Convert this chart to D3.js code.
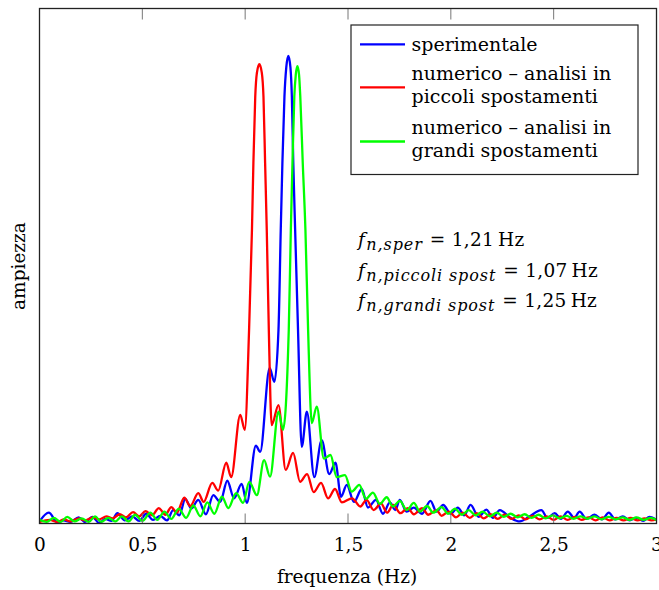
<!DOCTYPE html>
<html><head><meta charset="utf-8">
<script src="https://cdn.jsdelivr.net/npm/d3@7"></script>
<style>
html,body{margin:0;padding:0;background:#fff;}
text{font-family:"DejaVu Serif",serif;fill:#000;}
</style></head>
<body>
<svg id="chart" width="659" height="590"></svg>
<script>
// ---- data (frequency in Hz, amplitude in arbitrary units) ----
const xTicks = [0, 0.5, 1, 1.5, 2, 2.5, 3];
const xTickLabels = ["0", "0,5", "1", "1,5", "2", "2,5", "3"];
const seriesNames = ["sperimentale", "numerico – analisi in|piccoli spostamenti", "numerico – analisi in|grandi spostamenti"];
const seriesColors = ["#0000ff", "#ff0000", "#00ff00"];

const sperimentale = [[0,0.003],[0.045,0.020],[0.088,0.001],[0.117,0.005],[0.150,0.002],[0.19,0.011],[0.222,0.002],[0.257,0.012],[0.29,0.0],[0.32,0.008],[0.35,0.004],[0.379,0.019],[0.415,0.005],[0.451,0.013],[0.485,0.004],[0.519,0.018],[0.552,0.006],[0.587,0.014],[0.62,0.005],[0.650,0.025],[0.68,0.015],[0.709,0.047],[0.738,0.028],[0.772,0.045],[0.809,0.017],[0.845,0.054],[0.879,0.041],[0.913,0.082],[0.946,0.048],[0.983,0.076],[1.008,0.039],[1.052,0.150],[1.073,0.138],[1.119,0.301],[1.142,0.274],[1.162,0.375],[1.173,0.569],[1.181,0.699],[1.191,0.828],[1.200,0.885],[1.210,0.907],[1.220,0.885],[1.227,0.828],[1.234,0.699],[1.243,0.569],[1.257,0.375],[1.275,0.148],[1.300,0.216],[1.336,0.089],[1.372,0.161],[1.409,0.095],[1.439,0.117],[1.466,0.051],[1.494,0.074],[1.529,0.041],[1.567,0.066],[1.597,0.030],[1.636,0.045],[1.670,0.018],[1.704,0.040],[1.73,0.025],[1.752,0.045],[1.785,0.022],[1.82,0.030],[1.86,0.018],[1.901,0.043],[1.93,0.022],[1.963,0.035],[2.0,0.018],[2.034,0.030],[2.065,0.015],[2.096,0.035],[2.135,0.012],[2.173,0.026],[2.205,0.010],[2.238,0.025],[2.29,0.010],[2.335,0.003],[2.38,0.012],[2.44,0.025],[2.47,0.010],[2.505,0.019],[2.535,0.008],[2.569,0.022],[2.60,0.010],[2.626,0.022],[2.66,0.008],[2.699,0.016],[2.735,0.007],[2.768,0.020],[2.80,0.007],[2.836,0.013],[2.87,0.005],[2.901,0.010],[2.935,0.004],[2.966,0.012],[3.0,0.006]];

const piccoliSpost = [[0,0.002],[0.05,0.006],[0.085,0.002],[0.12,0.007],[0.15,0.003],[0.19,0.009],[0.22,0.005],[0.26,0.011],[0.29,0.007],[0.325,0.013],[0.355,0.009],[0.39,0.017],[0.42,0.011],[0.455,0.021],[0.485,0.013],[0.515,0.023],[0.548,0.015],[0.58,0.029],[0.612,0.016],[0.641,0.031],[0.668,0.020],[0.704,0.049],[0.733,0.033],[0.772,0.058],[0.798,0.041],[0.840,0.078],[0.869,0.063],[0.908,0.117],[0.932,0.089],[0.976,0.210],[0.998,0.181],[1.019,0.375],[1.033,0.569],[1.040,0.699],[1.049,0.828],[1.057,0.874],[1.069,0.891],[1.081,0.874],[1.089,0.828],[1.097,0.699],[1.105,0.569],[1.115,0.375],[1.129,0.190],[1.162,0.229],[1.197,0.103],[1.233,0.136],[1.267,0.080],[1.301,0.095],[1.333,0.060],[1.369,0.078],[1.403,0.048],[1.437,0.066],[1.47,0.040],[1.52,0.048],[1.56,0.032],[1.59,0.045],[1.625,0.025],[1.66,0.038],[1.69,0.020],[1.72,0.035],[1.755,0.019],[1.79,0.029],[1.82,0.017],[1.86,0.029],[1.89,0.016],[1.93,0.025],[1.955,0.014],[1.99,0.022],[2.025,0.011],[2.058,0.020],[2.092,0.010],[2.126,0.019],[2.16,0.009],[2.194,0.017],[2.228,0.008],[2.262,0.016],[2.296,0.008],[2.33,0.015],[2.364,0.007],[2.398,0.014],[2.432,0.007],[2.466,0.013],[2.5,0.006],[2.534,0.013],[2.568,0.006],[2.602,0.012],[2.636,0.006],[2.67,0.011],[2.704,0.005],[2.738,0.011],[2.772,0.005],[2.806,0.010],[2.84,0.005],[2.874,0.010],[2.908,0.005],[2.942,0.009],[2.976,0.005],[3.0,0.007]];

const grandiSpost = [[0,0.006],[0.035,0.002],[0.07,0.010],[0.102,0.002],[0.135,0.012],[0.17,0.003],[0.205,0.009],[0.24,0.002],[0.27,0.013],[0.30,0.002],[0.335,0.010],[0.368,0.003],[0.40,0.013],[0.433,0.003],[0.465,0.016],[0.50,0.004],[0.539,0.020],[0.573,0.006],[0.607,0.022],[0.641,0.008],[0.677,0.028],[0.713,0.010],[0.748,0.034],[0.782,0.013],[0.816,0.040],[0.850,0.018],[0.887,0.051],[0.918,0.029],[0.956,0.058],[0.990,0.039],[1.020,0.080],[1.057,0.054],[1.092,0.122],[1.121,0.090],[1.162,0.216],[1.184,0.181],[1.212,0.375],[1.222,0.569],[1.230,0.699],[1.239,0.828],[1.246,0.870],[1.254,0.887],[1.262,0.870],[1.268,0.828],[1.280,0.699],[1.293,0.569],[1.306,0.375],[1.324,0.194],[1.348,0.226],[1.383,0.125],[1.415,0.132],[1.445,0.089],[1.485,0.093],[1.518,0.061],[1.555,0.074],[1.587,0.047],[1.621,0.059],[1.655,0.037],[1.688,0.050],[1.718,0.032],[1.752,0.043],[1.786,0.025],[1.820,0.039],[1.850,0.022],[1.885,0.033],[1.914,0.020],[1.955,0.031],[1.987,0.018],[2.02,0.028],[2.053,0.016],[2.087,0.025],[2.121,0.015],[2.155,0.022],[2.19,0.013],[2.223,0.020],[2.257,0.012],[2.291,0.018],[2.325,0.011],[2.359,0.017],[2.393,0.010],[2.427,0.016],[2.461,0.009],[2.495,0.015],[2.529,0.009],[2.563,0.014],[2.597,0.008],[2.631,0.013],[2.665,0.008],[2.699,0.013],[2.733,0.007],[2.767,0.012],[2.801,0.007],[2.835,0.011],[2.869,0.006],[2.903,0.011],[2.937,0.006],[2.971,0.010],[3.0,0.006]];

const annotations = [
  {sub: "n,sper", value: "1,21"},
  {sub: "n,piccoli spost", value: "1,07"},
  {sub: "n,grandi spost", value: "1,25"}
];

// ---- layout ----
const L = 39.5, R = 656.5, T = 8.5, B = 523.5;
const svg = d3.select("#chart");
const x = d3.scaleLinear().domain([0, 3]).range([L, R]);
const y = d3.scaleLinear().domain([0, 1]).range([523, 8]);

svg.append("defs").append("clipPath").attr("id", "clip")
  .append("rect").attr("x", L).attr("y", T).attr("width", R - L).attr("height", B - T);

const line = d3.line().x(d => x(d[0])).y(d => y(d[1])).curve(d3.curveMonotoneX);
const allSeries = [sperimentale, piccoliSpost, grandiSpost];

const gLines = svg.append("g").attr("clip-path", "url(#clip)");
[0, 1, 2].forEach(i => {
  gLines.append("path").datum(allSeries[i])
    .attr("d", line).attr("fill", "none")
    .attr("stroke", seriesColors[i]).attr("stroke-width", 2.3)
    .attr("stroke-linejoin", "round");
});

// axes: bottom labels, inward ticks at bottom and top
const axB = d3.axisBottom(x).tickValues(xTicks).tickFormat((d, i) => xTickLabels[i]).tickSize(0).tickPadding(0);
const gB = svg.append("g").attr("transform", `translate(0,${B})`).call(axB);
gB.select(".domain").remove();
gB.selectAll("text").attr("font-family", "DejaVu Serif").attr("font-size", 18.5).attr("y", 27.5).attr("dy", 0);
xTicks.forEach(v => {
  svg.append("line").attr("x1", x(v)).attr("x2", x(v)).attr("y1", B).attr("y2", B - 10)
    .attr("stroke", "#777").attr("stroke-width", 1);
  svg.append("line").attr("x1", x(v)).attr("x2", x(v)).attr("y1", T).attr("y2", T + 11)
    .attr("stroke", "#777").attr("stroke-width", 1);
});

// frame
svg.append("rect").attr("x", L).attr("y", T).attr("width", R - L).attr("height", B - T)
  .attr("fill", "none").attr("stroke", "#222").attr("stroke-width", 1.3);

// axis labels
svg.append("text").attr("x", 347).attr("y", 583).attr("text-anchor", "middle")
  .attr("font-size", 18.5).text("frequenza (Hz)");
svg.append("text").attr("transform", "translate(25,266) rotate(-90)").attr("text-anchor", "middle")
  .attr("font-size", 18.5).text("ampiezza");

// legend
const lg = svg.append("g");
lg.append("rect").attr("x", 351).attr("y", 25).attr("width", 287).attr("height", 149.5)
  .attr("fill", "#fff").attr("stroke", "#222").attr("stroke-width", 1.2);
const legendLineY = [44.3, 87.3, 141.5];
const legendTextY = [[51], [80, 103], [134, 157]];
seriesNames.forEach((name, i) => {
  lg.append("line").attr("x1", 360).attr("x2", 405).attr("y1", legendLineY[i]).attr("y2", legendLineY[i])
    .attr("stroke", seriesColors[i]).attr("stroke-width", 2.3);
  name.split("|").forEach((part, j) => {
    lg.append("text").attr("x", 411.5).attr("y", legendTextY[i][j]).attr("font-size", 19).text(part);
  });
});

// annotations
const annY = [246, 276.5, 306.5];
annotations.forEach((a, i) => {
  const t = svg.append("text").attr("x", 358).attr("y", annY[i]).attr("font-size", 18.5);
  t.append("tspan").attr("font-style", "italic").text("f");
  t.append("tspan").attr("font-style", "italic").attr("font-size", 16).attr("letter-spacing", 0.9)
    .attr("dx", 1.5).attr("dy", 4).text(a.sub);
  t.append("tspan").attr("dy", -4).attr("dx", 7).attr("letter-spacing", 0.3).text("= " + a.value + "\u2009Hz");
});
</script>
</body></html>
